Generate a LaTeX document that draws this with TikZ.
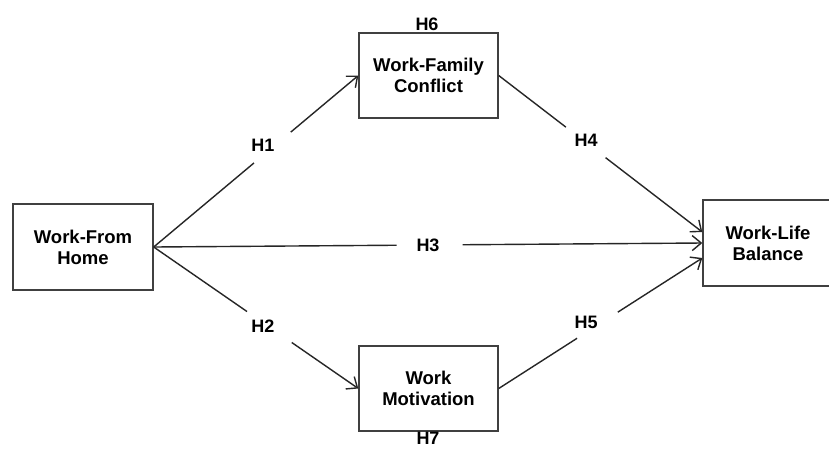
\documentclass[tikz,border=0pt]{standalone}
\usepackage{fontspec}
\setmainfont{Liberation Sans}
\usetikzlibrary{arrows.meta,calc}
\begin{document}
\begin{tikzpicture}[x=1pt,y=-1pt,
  varbox/.style={draw=black!75,line width=1.4pt,align=center,inner sep=0pt,
    font=\fontsize{18.5}{21}\selectfont\bfseries},
  hlabel/.style={font=\fontsize{18}{21}\selectfont\bfseries,inner sep=1pt},
  link/.style={draw=black!85,line width=1.4pt},
  arr/.style={link,-{Straight Barb[length=9pt,width=15pt,line width=1.4pt]}}]
\useasboundingbox (0,0) rectangle (829,448);
\fill[white] (0,0) rectangle (829,448);
\node[varbox,minimum width=140pt,minimum height=86pt] (wfh) at (83,247) {Work-From\\Home};
\node[varbox,minimum width=139pt,minimum height=85pt] (wfc) at (428.5,75.5) {Work-Family\\Conflict};
\node[varbox,minimum width=139pt,minimum height=85pt] (wm) at (428.5,388.5) {Work\\Motivation};
\node[varbox,minimum width=130pt,minimum height=86pt] (wlb) at (768,243) {Work-Life\\Balance};
\coordinate (t4) at ([yshift=11pt]wlb.west);
\coordinate (t5) at ([yshift=-15pt]wlb.west);
% H1
\draw[link] (wfh.east) -- ($(wfh.east)!0.49!(wfc.west)$);
\draw[arr] ($(wfh.east)!0.67!(wfc.west)$) -- (wfc.west);
% H2
\draw[link] (wfh.east) -- ($(wfh.east)!0.456!(wm.west)$);
\draw[arr] ($(wfh.east)!0.675!(wm.west)$) -- (wm.west);
% H3
\draw[link] (wfh.east) -- ($(wfh.east)!0.443!(wlb.west)$);
\draw[arr] ($(wfh.east)!0.563!(wlb.west)$) -- (wlb.west);
% H4
\draw[link] (wfc.east) -- ($(wfc.east)!0.33!(t4)$);
\draw[arr] ($(wfc.east)!0.525!(t4)$) -- (t4);
% H5
\draw[link] (wm.east) -- ($(wm.east)!0.385!(t5)$);
\draw[arr] ($(wm.east)!0.585!(t5)$) -- (t5);
\node[hlabel] (h1) at (263,145) {H1};
\node[hlabel] (h2) at (263,326) {H2};
\node[hlabel] (h3) at (428,245) {H3};
\node[hlabel] (h4) at (586,140) {H4};
\node[hlabel] (h5) at (586,322) {H5};
\node[hlabel] (h6) at (427,24) {H6};
\node[hlabel] (h7) at (428,438) {H7};
\end{tikzpicture}
\end{document}
